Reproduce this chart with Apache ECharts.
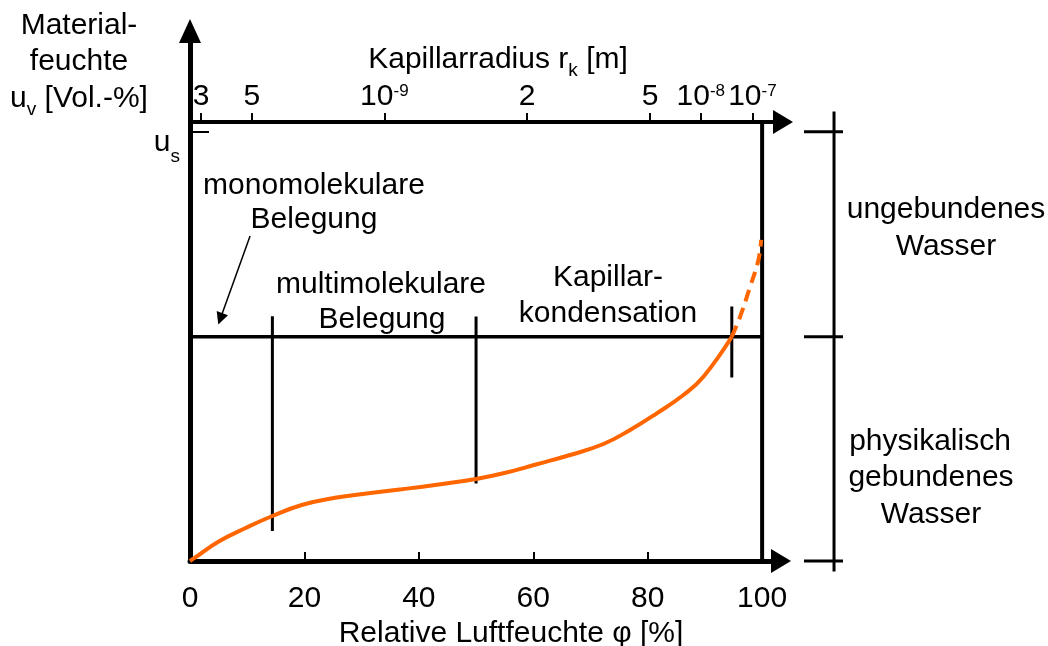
<!DOCTYPE html>
<html>
<head>
<meta charset="utf-8">
<script src="https://cdn.jsdelivr.net/npm/echarts@6/dist/echarts.min.js"></script>
<style>
html,body{margin:0;padding:0;background:#fff;}
#c{width:1048px;height:646px;}
</style>
</head>
<body>
<div id="c"></div>
<script>
const FONT = "'Liberation Sans', Arial, Helvetica, sans-serif";

// Sorption isotherm (relative humidity in %, moisture content in relative units, u_s = 98)
const phiSolid = [0, 0.87, 4.95, 9.62, 14.39, 19.53, 25.35, 31.17, 37.01, 42.83, 50.0, 54.77, 60.61, 66.43, 72.26, 76.92, 81.59, 86.24, 89.74, 94.7];
const uSolid   = [0, 0.75, 4.41, 7.47, 10.27, 12.79, 14.45, 15.46, 16.37, 17.35, 18.72, 20.02, 22.08, 24.2, 26.71, 29.91, 33.72, 37.9, 42.08, 51.2];
const phiDashed = [94.7, 96.15, 97.9, 99.35, 99.83];
const uDashed   = [51.2, 55.78, 62.63, 68.72, 73.29];

// bottom axis
const humidityLabels = [0, 20, 40, 60, 80, 100];
const humidityTicks = [20, 40, 60, 80];

// top axis: capillary radius, placed at relative humidity positions
const radiusTickPhi = [1.92, 10.79, 33.97, 58.92, 80.42, 89.28, 98.3];
const radiusTickLabels = ['3', '5', '10^-9', '2', '5', '10^-8', '10^-7'];

// levels
const uSaturation = 98;
const uBoundary = 51.2;

// region separators (vertical marker lines)
const markerPhi  = [14.4, 50.0, 94.7];
const markerFrom = [6.85, 17.7, 41.9];
const markerTo   = [55.9, 55.8, 58.1];

// bracket levels on the right (u values)
const bracketLevels = [uSaturation, uBoundary, 0];
const bracketSpan = [-2.4, 102.6];

const chart = echarts.init(document.getElementById('c'), null, {renderer: 'canvas', width: 1048, height: 646});

function seg(pts, width, extra) {
  return Object.assign({
    type: 'line', xAxisIndex: 0, yAxisIndex: 0, data: pts, symbol: 'none',
    silent: true, animation: false, z: 3,
    lineStyle: {color: '#000', width: width, type: 'solid'}
  }, extra || {});
}

const series = [];
series.push(seg(phiSolid.map((p, i) => [p, uSolid[i]]), 4, {
  smooth: 0.45, z: 5, lineStyle: {color: '#FF6600', width: 4}
}));
series.push(seg(phiDashed.map((p, i) => [p, uDashed[i]]), 4, {
  smooth: 0.45, z: 5, lineStyle: {color: '#FF6600', width: 4, type: [12, 7]}
}));
// right frame border
series.push(seg([[100, 0], [100, 100.2]], 4));
// boundary between bound and free water
series.push(seg([[0, uBoundary], [100, uBoundary]], 3.5));
// marker lines
markerPhi.forEach((p, i) => series.push(seg([[p, markerFrom[i]], [p, markerTo[i]]], 3)));
// bracket on the right (own grid, same vertical scale)
series.push(seg([[0.77, bracketSpan[1]], [0.77, bracketSpan[0]]], 3, {xAxisIndex: 2, yAxisIndex: 2}));
bracketLevels.forEach(v => series.push(seg([[0, v], [1, v]], 3, {xAxisIndex: 2, yAxisIndex: 2})));
// annotation arrow
series.push(seg([], 1.5, {
  markLine: {
    silent: true, animation: false,
    symbol: ['none', 'triangle'], symbolSize: 12,
    label: {show: false},
    lineStyle: {color: '#000', width: 1.5, type: 'solid'},
    emphasis: {disabled: true},
    data: [[{coord: [10.5, 74.2]}, {coord: [5.3, 55.3]}]]
  }
}));

const RICH = {
  a: {fontFamily: FONT, fontSize: 30, lineHeight: 36, verticalAlign: 'middle', fill: '#000'},
  sub: {fontFamily: FONT, fontSize: 19, lineHeight: 12, verticalAlign: 'top', padding: [20, 0, 0, 0], fill: '#000'}
};
function txt(x, baseline, s) {
  return {type: 'text', x: x, y: baseline - 27.3, silent: true, z: 10,
    style: {text: s, rich: RICH, align: 'center', verticalAlign: 'top', fill: '#000', font: '30px ' + FONT}};
}

const graphics = [
  txt(79, 35, '{a|Material-}'),
  txt(79, 71, '{a|feuchte}'),
  txt(79, 108, '{a|u}{sub|v}{a| [Vol.-%]}'),
  txt(498, 69, '{a|Kapillarradius r}{sub|k}{a| [m]}'),
  txt(946, 219, '{a|ungebundenes}'),
  txt(946, 256, '{a|Wasser}'),
  txt(930, 451, '{a|physikalisch}'),
  txt(931, 487, '{a|gebundenes}'),
  txt(931, 524, '{a|Wasser}'),
  txt(314, 195, '{a|monomolekulare}'),
  txt(314, 229, '{a|Belegung}'),
  txt(381, 294, '{a|multimolekulare}'),
  txt(382, 329, '{a|Belegung}'),
  txt(608, 287, '{a|Kapillar-}'),
  txt(608, 323, '{a|kondensation}'),
  txt(511, 643, '{a|Relative Luftfeuchte φ [%]}')
];

function radiusLabel(v) {
  const i = radiusTickPhi.indexOf(v);
  if (i < 0) return '';
  const s = radiusTickLabels[i];
  const k = s.indexOf('^');
  if (k < 0) return '{n|' + s + '}';
  return '{n|' + s.slice(0, k) + '}{sup|' + s.slice(k + 1) + '}';
}

const option = {
  animation: false,
  backgroundColor: '#fff',
  grid: [
    {left: 190, top: 31, width: 591, height: 530, outerBoundsMode: 'none', containLabel: false},
    {left: 190, top: 122, width: 591, height: 439, outerBoundsMode: 'none', containLabel: false},
    {left: 804, top: 31, width: 39, height: 551.9, outerBoundsMode: 'none', containLabel: false}
  ],
  xAxis: [
    {
      type: 'value', gridIndex: 0, min: 0, max: 103.3, position: 'bottom',
      splitLine: {show: false},
      axisLine: {show: true, onZero: false, lineStyle: {color: '#000', width: 5},
        symbol: ['none', 'triangle'], symbolSize: [24, 20]},
      axisTick: {show: true, inside: true, length: 9, customValues: humidityTicks, lineStyle: {color: '#000', width: 2}},
      axisLabel: {show: true, customValues: humidityLabels, margin: 23, color: '#000',
        fontFamily: FONT, fontSize: 30, lineHeight: 30, hideOverlap: false}
    },
    {
      type: 'value', gridIndex: 1, min: 0, max: 103.3, position: 'top',
      splitLine: {show: false},
      axisLine: {show: true, onZero: false, lineStyle: {color: '#000', width: 4},
        symbol: ['none', 'triangle'], symbolSize: [24, 20], symbolOffset: [0, 2]},
      axisTick: {show: true, inside: false, length: 9, customValues: radiusTickPhi, lineStyle: {color: '#000', width: 2}},
      axisLabel: {show: true, customValues: radiusTickPhi, margin: 10, color: '#000', hideOverlap: false,
        formatter: radiusLabel,
        rich: {
          n: {fontFamily: FONT, fontSize: 30, lineHeight: 30, verticalAlign: 'middle', color: '#000'},
          sup: {fontFamily: FONT, fontSize: 17, lineHeight: 12, verticalAlign: 'top', padding: [1, 0, 0, 0], color: '#000'}
        }}
    },
    {type: 'value', gridIndex: 2, min: 0, max: 1, show: false}
  ],
  yAxis: [
    {
      type: 'value', gridIndex: 0, min: 0, max: 121,
      splitLine: {show: false},
      axisLine: {show: true, onZero: false, lineStyle: {color: '#000', width: 5},
        symbol: ['none', 'triangle'], symbolSize: [22, 24]},
      axisTick: {show: true, inside: true, length: 19, customValues: [uSaturation], lineStyle: {color: '#000', width: 2}},
      axisLabel: {show: true, customValues: [uSaturation], margin: 10, verticalAlign: 'top', color: '#000',
        formatter: () => '{u|u}{s|s}',
        rich: {
          u: {fontFamily: FONT, fontSize: 30, lineHeight: 22, verticalAlign: 'middle', color: '#000'},
          s: {fontFamily: FONT, fontSize: 19, lineHeight: 12, verticalAlign: 'top', padding: [16, 0, 0, 0], color: '#000'}
        }}
    },
    {type: 'value', gridIndex: 1, min: 0, max: 1, show: false},
    {type: 'value', gridIndex: 2, min: -5, max: 121, show: false}
  ],
  series: series,
  graphic: {elements: graphics}
};
chart.setOption(option);
</script>
</body>
</html>
